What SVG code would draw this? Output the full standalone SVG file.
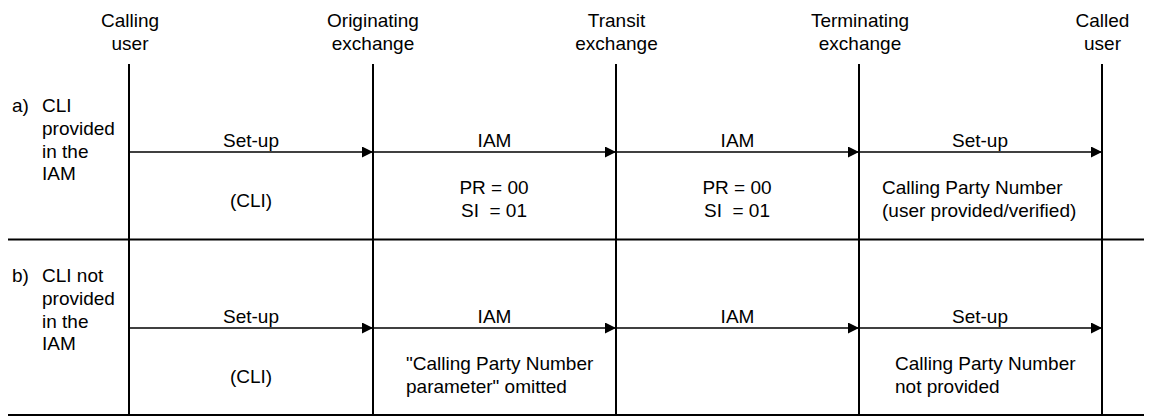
<svg xmlns="http://www.w3.org/2000/svg" width="1152" height="418" viewBox="0 0 1152 418">
<style>
text{font-family:"Liberation Sans",Arial,sans-serif;font-size:19px;fill:#000}
.c{text-anchor:middle}
.life{stroke:#000;stroke-width:2;fill:none}
.rule{stroke:#000;stroke-width:2;fill:none}
.msg{stroke:#000;stroke-width:1.6;fill:none;marker-end:url(#ah)}
</style>
<defs>
<marker id="ah" markerUnits="userSpaceOnUse" markerWidth="12" markerHeight="12" refX="11" refY="5.5" orient="auto">
<path d="M0,0 L11,5.5 L0,11 Z" fill="#000"/>
</marker>
</defs>
<rect width="1152" height="418" fill="#fff"/>

<g id="calling-user">
<text class="c" x="130" y="27">Calling</text>
<text class="c" x="130" y="50">user</text>
<line class="life" x1="129" y1="64" x2="129" y2="415"/>
</g>
<g id="originating-exchange">
<text class="c" x="373" y="27">Originating</text>
<text class="c" x="373" y="50">exchange</text>
<line class="life" x1="373" y1="64" x2="373" y2="415"/>
</g>
<g id="transit-exchange">
<text class="c" x="616.5" y="27">Transit</text>
<text class="c" x="616.5" y="50">exchange</text>
<line class="life" x1="616" y1="64" x2="616" y2="415"/>
</g>
<g id="terminating-exchange">
<text class="c" x="860" y="27">Terminating</text>
<text class="c" x="860" y="50">exchange</text>
<line class="life" x1="859" y1="64" x2="859" y2="415"/>
</g>
<g id="called-user">
<text class="c" x="1102.5" y="27">Called</text>
<text class="c" x="1102.5" y="50">user</text>
<line class="life" x1="1102" y1="64" x2="1102" y2="415"/>
</g>

<g id="case-a">
<text x="12" y="112">a)</text>
<text x="42" y="112">CLI</text>
<text x="42" y="135">provided</text>
<text x="42" y="157.5">in the</text>
<text x="42" y="180">IAM</text>
<text class="c" x="251" y="207">(CLI)</text>
<text class="c" x="494" y="194">PR = 00</text>
<text class="c" x="494" y="217" xml:space="preserve">SI  = 01</text>
<text class="c" x="737" y="194">PR = 00</text>
<text class="c" x="737" y="217" xml:space="preserve">SI  = 01</text>
<text x="882" y="194">Calling Party Number</text>
<text x="882" y="217">(user provided/verified)</text>
</g>

<g id="case-b">
<text x="12" y="282">b)</text>
<text x="42" y="282">CLI not</text>
<text x="42" y="305">provided</text>
<text x="42" y="327.5">in the</text>
<text x="42" y="350">IAM</text>
<text class="c" x="251" y="383">(CLI)</text>
<text x="406" y="370">"Calling Party Number</text>
<text x="406" y="393">parameter" omitted</text>
<text x="895" y="370">Calling Party Number</text>
<text x="895" y="393">not provided</text>
</g>

<g id="rules">
<line class="rule" x1="8" y1="239.5" x2="1144" y2="239.5"/>
<line class="rule" x1="8" y1="415" x2="1144" y2="415"/>
</g>

<g id="connectors">
<line class="msg" x1="129" y1="152" x2="373" y2="152"/>
<line class="msg" x1="373" y1="152" x2="616" y2="152"/>
<line class="msg" x1="616" y1="152" x2="859" y2="152"/>
<line class="msg" x1="859" y1="152" x2="1102" y2="152"/>
<text class="c" x="251" y="147">Set-up</text>
<text class="c" x="494.5" y="147">IAM</text>
<text class="c" x="737.5" y="147">IAM</text>
<text class="c" x="980" y="147">Set-up</text>

<line class="msg" x1="129" y1="328" x2="373" y2="328"/>
<line class="msg" x1="373" y1="328" x2="616" y2="328"/>
<line class="msg" x1="616" y1="328" x2="859" y2="328"/>
<line class="msg" x1="859" y1="328" x2="1102" y2="328"/>
<text class="c" x="251" y="323">Set-up</text>
<text class="c" x="494.5" y="323">IAM</text>
<text class="c" x="737.5" y="323">IAM</text>
<text class="c" x="980" y="323">Set-up</text>
</g>
</svg>
